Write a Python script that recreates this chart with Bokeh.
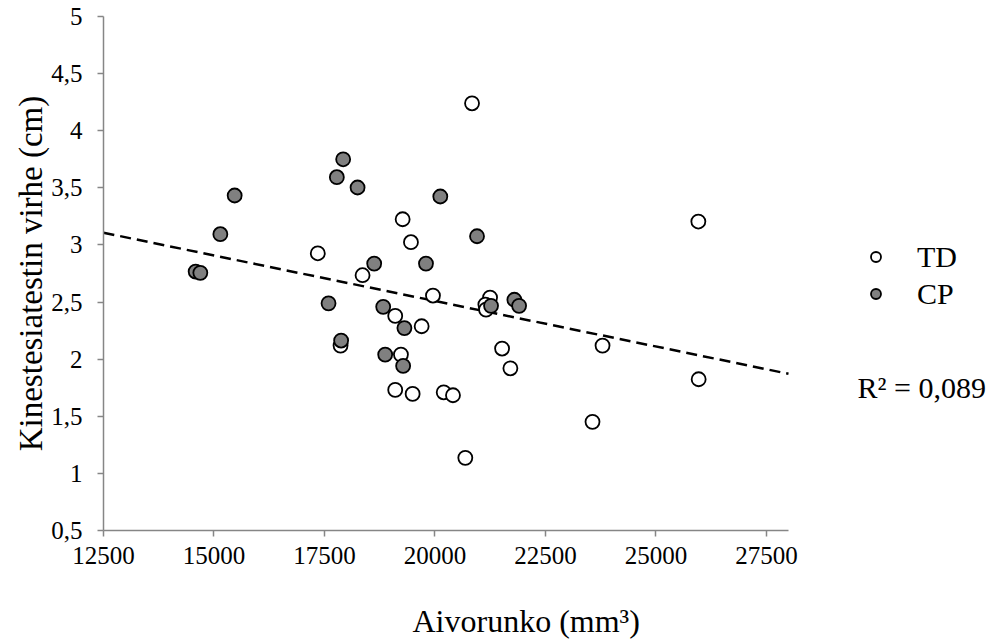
import math
import numpy as np
from bokeh.plotting import figure
from bokeh.models import FixedTicker, Legend, LegendItem, Label
from bokeh.embed import file_html
from bokeh.resources import INLINE

# ---- data ----
td_x = [20839, 25960, 19269, 19457, 17349, 18362, 19955, 21247, 21141, 21156,
        19101, 19699, 23792, 17864, 19230, 21519, 21707, 25967, 19101, 19495,
        20198, 20408, 23565, 20687]
td_y = [4.24, 3.205, 3.225, 3.024, 2.927, 2.735, 2.557, 2.539, 2.478, 2.434,
        2.379, 2.288, 2.119, 2.119, 2.040, 2.093, 1.920, 1.824, 1.731, 1.696,
        1.710, 1.684, 1.451, 1.136]

cp_x = [17923, 17780, 18249, 15468, 20121, 15144, 20952, 14585, 14691, 18625,
        19797, 17592, 18829, 19309, 17877, 18874, 19280, 21269, 21797, 21904]
cp_y = [3.750, 3.593, 3.503, 3.433, 3.424, 3.094, 3.076, 2.767, 2.756, 2.837,
        2.837, 2.489, 2.458, 2.272, 2.163, 2.040, 1.941, 2.467, 2.520, 2.467]

x_ticks = [12500, 15000, 17500, 20000, 22500, 25000, 27500]
y_ticks = [0.5, 1, 1.5, 2, 2.5, 3, 3.5, 4, 4.5, 5]
y_tick_labels = ["0,5", "1", "1,5", "2", "2,5", "3", "3,5", "4", "4,5", "5"]
x_title = "Aivorunko (mm³)"
y_title = "Kinestesiatestin virhe (cm)"
series_names = ["TD", "CP"]
r2_text = "R² = 0,089"
x_axis_bounds = (12500, 28000)
y_axis_bounds = (0.5, 5)

FONT = "Liberation Serif"
AXIS_GREY = "#868686"

# ---- layout: the plotting frame covers the whole canvas; the axes are
# drawn at fixed positions inside it (axis box 103..788 x 16..530 px)
W, H = 995, 644
AX_LEFT, AX_RIGHT, AX_TOP, AX_BOTTOM = 103, 788, 16, 530
ux = (x_axis_bounds[1] - x_axis_bounds[0]) / (AX_RIGHT - AX_LEFT)
uy = (y_axis_bounds[1] - y_axis_bounds[0]) / (AX_BOTTOM - AX_TOP)
x_view = (x_axis_bounds[0] - AX_LEFT * ux, x_axis_bounds[0] + (W - AX_LEFT) * ux)
y_view = (y_axis_bounds[0] - (H - AX_BOTTOM) * uy, y_axis_bounds[1] + AX_TOP * uy)

p = figure(width=W, height=H, output_backend="svg", toolbar_location=None,
           x_range=x_view, y_range=y_view,
           min_border_left=0, min_border_right=0,
           min_border_top=0, min_border_bottom=0)
p.grid.visible = False
p.outline_line_color = None
p.background_fill_color = "white"
p.border_fill_color = "white"

# trend line (least squares over all points)
all_x = np.array(td_x + cp_x, dtype=float)
all_y = np.array(td_y + cp_y, dtype=float)
slope, intercept = np.polyfit(all_x, all_y, 1)
lx = np.array(x_axis_bounds, dtype=float)
p.line(lx, slope * lx + intercept, line_color="black", line_width=2.5,
       line_dash="11 6")

td = p.scatter(td_x, td_y, size=14, marker="circle", fill_color="white",
               line_color="black", line_width=1.8)
cp = p.scatter(cp_x, cp_y, size=14, marker="circle", fill_color="#808080",
               line_color="black", line_width=1.8)

# axes
for ax in (p.xaxis[0], p.yaxis[0]):
    ax.axis_line_color = AXIS_GREY
    ax.axis_line_width = 1.5
    ax.major_tick_line_color = AXIS_GREY
    ax.major_tick_line_width = 1.5
    ax.major_tick_out = 6
    ax.major_tick_in = 0
    ax.minor_tick_line_color = None
    ax.major_label_text_font = FONT
    ax.major_label_text_font_size = "25px"
    ax.major_label_text_color = "black"

p.xaxis.fixed_location = y_axis_bounds[0]
p.yaxis.fixed_location = x_axis_bounds[0]
p.xaxis.bounds = x_axis_bounds
p.yaxis.bounds = y_axis_bounds
p.xaxis.ticker = FixedTicker(ticks=x_ticks)
p.yaxis.ticker = FixedTicker(ticks=y_ticks)
p.yaxis.major_label_overrides = {t: l for t, l in zip(y_ticks, y_tick_labels)}
p.xaxis.major_label_standoff = 10
p.yaxis.major_label_standoff = 15

# axis titles
p.add_layout(Label(x=412, y=H - 620, x_units="screen", y_units="screen",
                   text=x_title, text_font=FONT, text_font_size="32px",
                   text_baseline="middle", text_align="left",
                   text_color="black"))
p.add_layout(Label(x=30, y=H - 273, x_units="screen", y_units="screen",
                   text=y_title, text_font=FONT, text_font_size="33px",
                   text_baseline="middle", text_align="center",
                   angle=math.pi / 2, text_color="black"))

legend = Legend(items=[LegendItem(label=series_names[0], renderers=[td]),
                       LegendItem(label=series_names[1], renderers=[cp])],
                location=(863, H - 312), orientation="vertical",
                border_line_color=None, background_fill_alpha=0,
                padding=0, margin=0, spacing=0,
                glyph_width=25, glyph_height=25, label_height=37,
                label_standoff=29, label_text_color="black",
                label_text_font=FONT, label_text_font_size="30px")
p.add_layout(legend, "center")

p.add_layout(Label(x=857, y=H - 387, x_units="screen", y_units="screen",
                   text=r2_text, text_font=FONT, text_font_size="30px",
                   text_baseline="middle", text_color="black"))

open("out.html", "w").write(file_html(p, INLINE))
